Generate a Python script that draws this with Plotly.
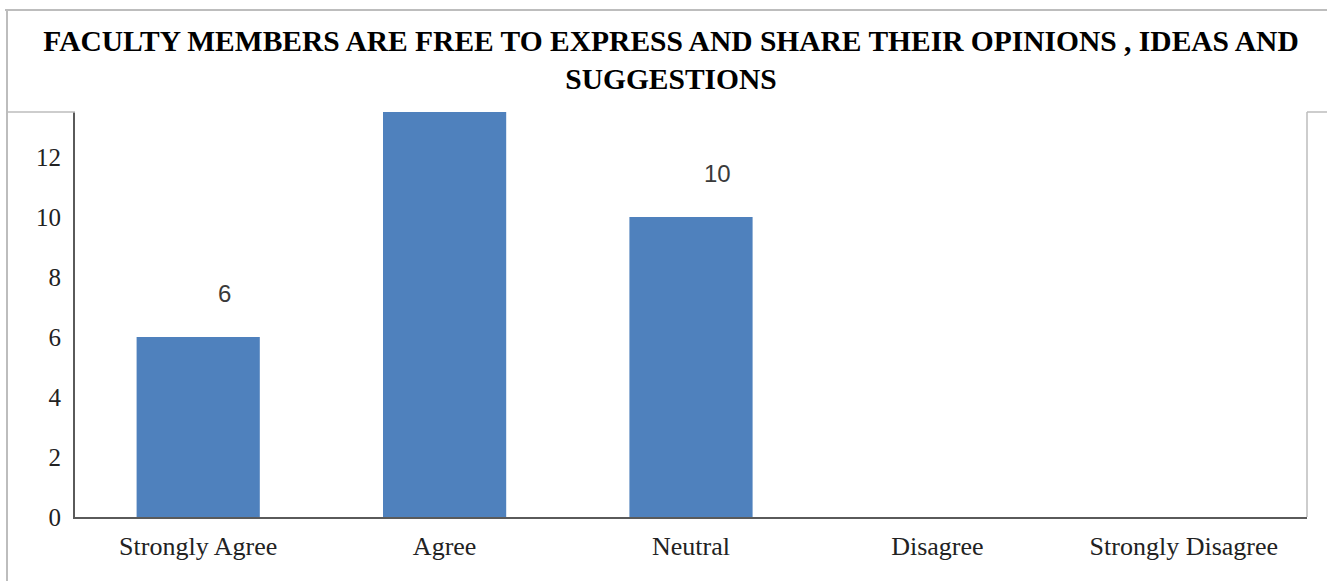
import plotly.graph_objects as go

categories = ["Strongly Agree", "Agree", "Neutral", "Disagree", "Strongly Disagree"]
counts = [6, 14, 10, 0, 0]
y_ticks = [0, 2, 4, 6, 8, 10, 12]
y_max = 13.5
title_text = "FACULTY MEMBERS ARE FREE TO EXPRESS AND SHARE THEIR OPINIONS , IDEAS AND<br>SUGGESTIONS"

BAR_COLOR = "#4F81BD"
AXIS_DARK = "#5a5a5a"
FRAME = "#bdbdbd"
SERIF = "Liberation Serif, Times New Roman, serif"

fig = go.Figure()
fig.add_trace(go.Bar(x=categories, y=counts, width=0.5,
                     marker=dict(color=BAR_COLOR, line=dict(width=0)),
                     hoverinfo="x+y", showlegend=False))

# data labels (only those that fall inside the visible plot range)
for c, v in zip(categories, counts):
    if 0 < v <= y_max:
        fig.add_annotation(x=c, y=v, text=str(v), showarrow=False,
                           xshift=26, yshift=44, yanchor="middle",
                           font=dict(family="Liberation Sans, Arial, sans-serif", size=24, color="#3a3a3a"))

W, H = 1327, 581
L, R, T, B = 75, 20, 112, 64
pw, ph = W - L - R, H - T - B

def px(x):
    return (x - L) / pw

def py(y):
    return (H - B - y) / ph

shapes = [
    # outer frame (top + left)
    dict(type="line", xref="paper", yref="paper", x0=px(5), x1=px(W), y0=py(10), y1=py(10),
         line=dict(color=FRAME, width=2)),
    dict(type="line", xref="paper", yref="paper", x0=px(7), x1=px(7), y0=py(10), y1=py(H),
         line=dict(color=FRAME, width=2)),
    # plot-area frame pieces
    dict(type="line", xref="paper", yref="paper", x0=px(7), x1=0, y0=1, y1=1,
         line=dict(color=FRAME, width=1.5)),
    dict(type="line", xref="paper", yref="paper", x0=1, x1=px(W), y0=1, y1=1,
         line=dict(color=FRAME, width=1.5)),
    dict(type="line", xref="paper", yref="paper", x0=1, x1=1, y0=0, y1=1,
         line=dict(color=FRAME, width=1.5)),
]

fig.update_layout(
    width=W, height=H,
    margin=dict(l=L, r=R, t=T, b=B, pad=0),
    paper_bgcolor="white", plot_bgcolor="white",
    title=dict(text=title_text, x=671 / W, xanchor="center", xref="container",
               y=1 - 51 / H, yanchor="top", yref="container",
               font=dict(family=SERIF, size=29.5, color="#000000", weight="bold")),
    xaxis=dict(showline=True, linecolor=AXIS_DARK, linewidth=2, showgrid=False,
               ticks="", ticklabelstandoff=5,
               tickfont=dict(family=SERIF, size=26, color="#222222")),
    yaxis=dict(range=[0, y_max], tickvals=y_ticks, showline=True, linecolor=AXIS_DARK,
               linewidth=2, showgrid=False, zeroline=False, ticks="", ticklabelstandoff=7,
               tickfont=dict(family=SERIF, size=25, color="#222222")),
    shapes=shapes,
    bargap=0.5,
)

fig.write_html("out.html", config={"displayModeBar": False},
               post_script="document.body.style.margin='0';")
